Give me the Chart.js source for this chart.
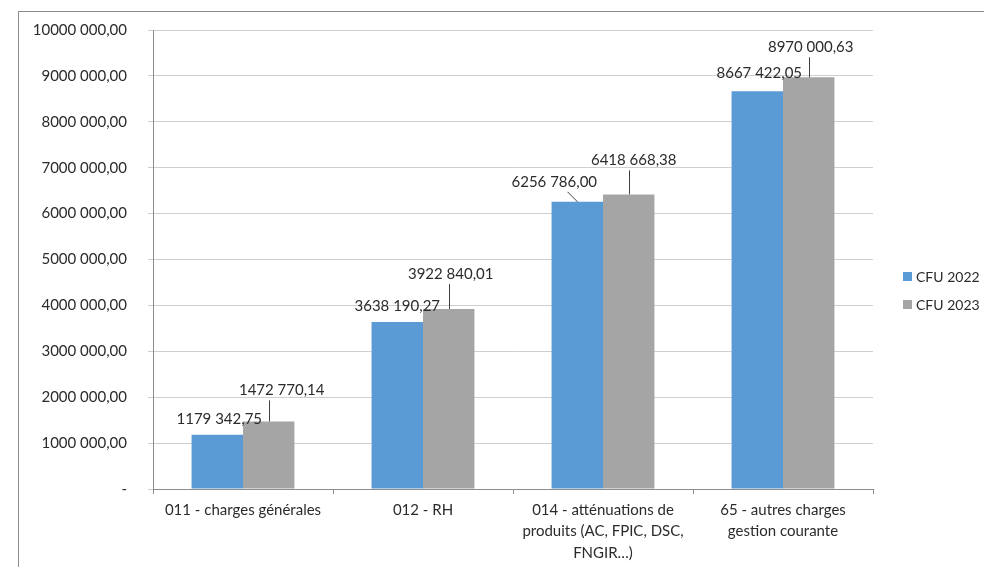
<!DOCTYPE html>
<html lang="fr">
<head>
<meta charset="utf-8">
<title>CFU 2022 / CFU 2023</title>
<script src="https://cdn.jsdelivr.net/npm/chart.js@4/dist/chart.umd.min.js"></script>
<style>
    html, body { margin: 0; padding: 0; background: #fff; overflow: hidden; }
    #wrap { position: relative; width: 984px; height: 567px; }
    #frame {
        position: absolute; left: 18px; top: 11px; width: 1000px; height: 600px;
        border-left: 1px solid #8c8c8c; border-top: 1px solid #8c8c8c;
    }
    #chart { position: absolute; left: 0; top: 0; }
</style>
</head>
<body>
<div id="wrap">
    <div id="frame"></div>
    <canvas id="chart" width="984" height="567"></canvas>
</div>
<script>
const categories = [
    '011 - charges générales',
    '012 - RH',
    ['014 - atténuations de', 'produits (AC, FPIC, DSC,', 'FNGIR…)'],
    ['65 - autres charges', 'gestion courante'],
];
const seriesNames = ['CFU 2022', 'CFU 2023'];
const cfu2022 = [1179342.75, 3638190.27, 6256786.00, 8667422.05];
const cfu2023 = [1472770.14, 3922840.01, 6418668.38, 8970000.63];
const yTicks = [0, 1000000, 2000000, 3000000, 4000000, 5000000, 6000000, 7000000, 8000000, 9000000, 10000000];

const COLORS = ['#5b9bd5', '#a5a5a5'];
const TEXT = '#2b2b2b';
const FONT = { family: 'Lato, "Open Sans", sans-serif', size: 15 };

// label placement (dx from bar centre, dy of label centre from bar top), like the Excel layout
const labelOffsets = [
    [[2, -16], [0, -16], [-23, -20], [2, -18]],
    [[13, -31], [2, -35], [5, -34], [2, -30]],
];

// "1179 342,75" style, "-" for zero
const fmt = (v) => {
    if (!v) return '-';
    const cents = Math.round(v * 100);
    const whole = Math.floor(cents / 100);
    const dec = String(cents % 100).padStart(2, '0');
    const head = Math.floor(whole / 1000);
    const tail = String(whole % 1000).padStart(3, '0');
    return head ? `${head} ${tail},${dec}` : `${whole},${dec}`;
};

const barLabels = {
    id: 'barLabels',
    afterDatasetsDraw(chart) {
        const { ctx } = chart;
        ctx.save();
        ctx.font = `${FONT.size}px ${FONT.family}`;
        ctx.fillStyle = TEXT;
        ctx.textAlign = 'center';
        ctx.textBaseline = 'middle';
        chart.data.datasets.forEach((ds, di) => {
            const meta = chart.getDatasetMeta(di);
            meta.data.forEach((bar, i) => {
                const [dx, dy] = labelOffsets[di][i];
                const text = fmt(ds.data[i]);
                const lx = bar.x + dx;
                const ly = bar.y + dy;
                ctx.fillText(text, lx, ly);
                const half = ctx.measureText(text).width / 2;
                const bottom = ly + 8;
                if (bar.y - bottom > 10) {
                    // leader: from the bar top to the label, slanted when the label sits off to the side
                    const tx = dx < -10 ? lx + half * 0.3 : Math.min(Math.max(bar.x, lx - half), lx + half);
                    ctx.beginPath();
                    ctx.strokeStyle = '#404040';
                    ctx.lineWidth = 1;
                    ctx.moveTo(Math.round(tx) + 0.5, bottom + 2);
                    ctx.lineTo(Math.round(bar.x) + 0.5, bar.y);
                    ctx.stroke();
                }
            });
        });
        ctx.restore();
    },
};

const sideLegend = {
    id: 'sideLegend',
    afterDraw(chart) {
        const { ctx } = chart;
        ctx.save();
        ctx.font = `14px ${FONT.family}`;
        ctx.textAlign = 'left';
        ctx.textBaseline = 'middle';
        chart.data.datasets.forEach((ds, i) => {
            const y = 277 + i * 28;
            ctx.fillStyle = ds.backgroundColor;
            ctx.fillRect(903, y - 5, 9, 9);
            ctx.fillStyle = TEXT;
            ctx.fillText(ds.label, 916, y);
        });
        ctx.restore();
    },
};

new Chart(document.getElementById('chart'), {
    type: 'bar',
    data: {
        labels: categories,
        datasets: [
            { label: seriesNames[0], data: cfu2022, backgroundColor: COLORS[0] },
            { label: seriesNames[1], data: cfu2023, backgroundColor: COLORS[1] },
        ],
    },
    options: {
        responsive: false,
        animation: false,
        devicePixelRatio: 1,
        layout: { padding: { top: 30, right: 111, left: 0, bottom: 0 } },
        datasets: {
            bar: { categoryPercentage: 1 / 1.75, barPercentage: 1, borderWidth: 0 },
        },
        plugins: {
            legend: { display: false },
            tooltip: { enabled: false },
        },
        scales: {
            x: {
                grid: {
                    drawOnChartArea: false,
                    drawTicks: true,
                    tickLength: 5,
                    color: '#8c8c8c',
                },
                border: { color: '#8c8c8c' },
                ticks: { color: TEXT, font: { ...FONT, lineHeight: 1.45 }, padding: 5, maxRotation: 0, autoSkip: false },
                afterFit(scale) { scale.height = 78; },
            },
            y: {
                min: 0,
                max: 10000000,
                afterBuildTicks(scale) { scale.ticks = yTicks.map((value) => ({ value })); },
                grid: { color: '#cfcfcf', tickColor: '#cfcfcf', tickLength: 5 },
                border: { color: '#8c8c8c' },
                ticks: { color: TEXT, font: FONT, padding: 21, callback: (v) => fmt(v) },
                afterFit(scale) { scale.width = 153; },
            },
        },
    },
    plugins: [barLabels, sideLegend],
});
</script>
</body>
</html>
